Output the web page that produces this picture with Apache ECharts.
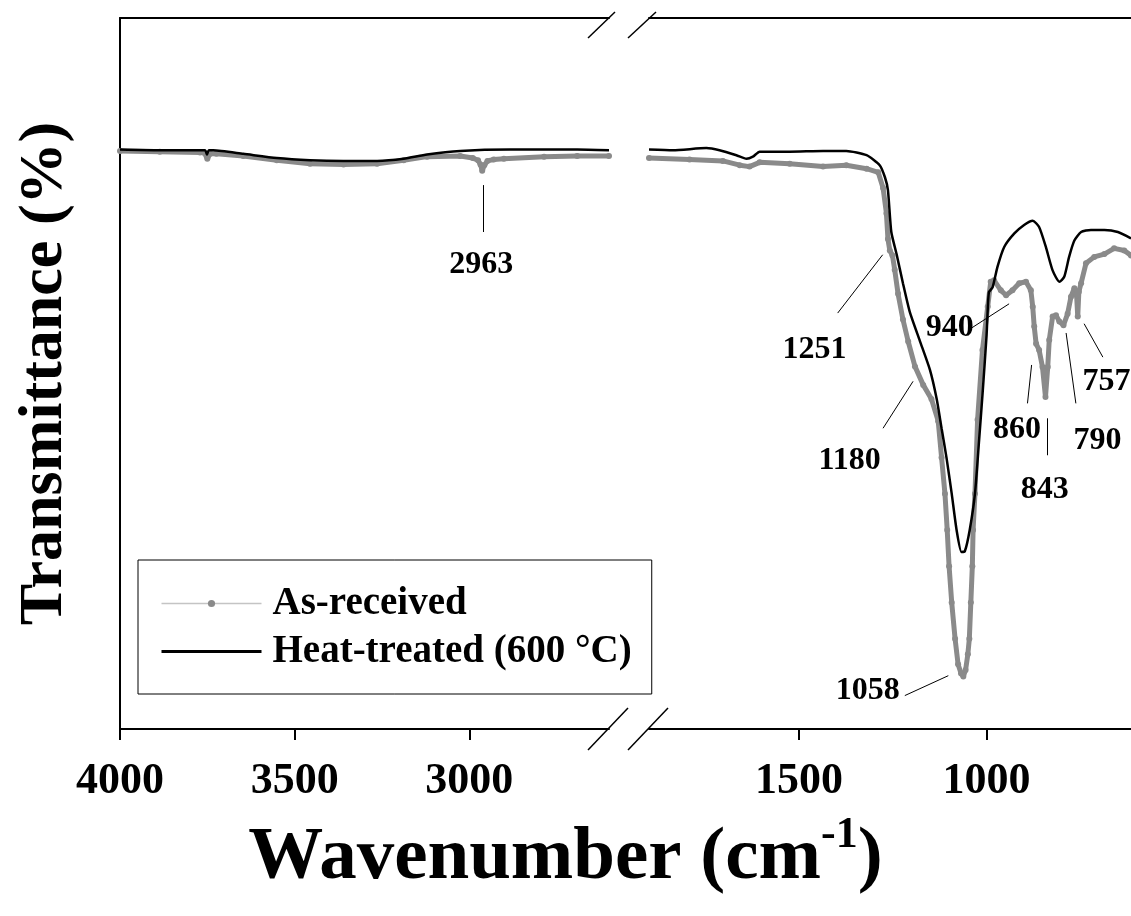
<!DOCTYPE html>
<html>
<head>
<meta charset="utf-8">
<script src="https://cdn.jsdelivr.net/npm/echarts@6/dist/echarts.min.js"></script>
<style>
  html, body { margin: 0; background: #fff; }
  #chart { width: 1131px; height: 916px; }
</style>
</head>
<body>
<div id="chart"></div>
<script>
// series names
var AS_RECEIVED = 'As-received';
var HEAT_TREATED = 'Heat-treated (600 °C)';

// left panel (4000 - 2600 cm-1)
var heatLeftWn = [4000, 3886, 3771, 3756, 3751, 3746, 3733, 3647, 3551, 3456, 3360, 3264, 3188, 3121, 3026, 2883, 2691, 2600];
var heatLeftT  = [81.5, 81.4, 81.4, 81.4, 80.8, 81.4, 81.4, 80.9, 80.3, 80.0, 79.9, 79.9, 80.2, 80.8, 81.3, 81.5, 81.5, 81.4];

var asLeftWn = [4000, 3886, 3771, 3758, 3750, 3742, 3724, 3647, 3551, 3456, 3360, 3264, 3188, 3121, 3026, 2990, 2975, 2968, 2963, 2957, 2948, 2930, 2901, 2786, 2691, 2600];
var asLeftT  = [81.3, 81.2, 81.1, 81.0, 80.2, 80.9, 80.9, 80.6, 80.0, 79.5, 79.4, 79.5, 80.0, 80.5, 80.6, 80.3, 80.0, 79.4, 78.5, 79.3, 79.9, 80.1, 80.2, 80.5, 80.6, 80.6];

// right panel (1900 - 615 cm-1)
var heatRightWn = [1900, 1836, 1747, 1712, 1667, 1640, 1623, 1605, 1525, 1436, 1374, 1320, 1285, 1271, 1263, 1254, 1240, 1223, 1205, 1178, 1151, 1133, 1120, 1107, 1093, 1080, 1067, 1058, 1045, 1031, 1020, 1010, 1000, 994, 984, 971, 953, 926, 900, 877, 860, 842, 824, 806, 793, 780, 766, 748, 722, 686, 650, 615];
var heatRightT  = [81.5, 81.4, 81.7, 81.4, 80.7, 80.2, 80.5, 81.2, 81.2, 81.3, 81.3, 80.7, 79.3, 77.6, 75.8, 69.9, 66.8, 62.7, 58.7, 54.6, 50.5, 46.4, 42.3, 38.2, 33.1, 28.0, 24.9, 25.0, 28.0, 33.1, 40.6, 47.7, 55.4, 61.4, 62.1, 65.0, 67.8, 69.7, 70.9, 71.5, 70.6, 67.8, 64.5, 62.9, 63.6, 66.4, 68.7, 69.9, 70.2, 70.2, 69.9, 69.0];

var asRightWn = [1900, 1792, 1703, 1658, 1632, 1605, 1525, 1436, 1374, 1320, 1289, 1276, 1267, 1263, 1258, 1251, 1245, 1236, 1223, 1209, 1191, 1169, 1147, 1129, 1120, 1111, 1105, 1100, 1093, 1084, 1076, 1068, 1062, 1056, 1050, 1046, 1042, 1038, 1036, 1031, 1024, 1011, 997, 989, 980, 962, 948, 931, 913, 895, 882, 877, 873, 868, 860, 851, 843, 837, 833, 824, 815, 806, 795, 784, 775, 766, 760, 757, 754, 748, 735, 713, 686, 660, 633, 615];
var asRightT  = [80.3, 80.1, 79.9, 79.3, 79.1, 79.7, 79.5, 79.1, 79.3, 78.8, 78.3, 76.1, 72.5, 68.9, 67.3, 66.6, 64.6, 61.2, 57.6, 54.5, 51.0, 48.4, 46.4, 43.3, 38.2, 33.1, 28.0, 22.9, 17.8, 12.7, 9.1, 7.8, 7.4, 8.3, 10.5, 12.7, 17.8, 22.9, 28.0, 33.1, 43.5, 53.3, 59.4, 62.9, 63.1, 61.7, 61.0, 61.7, 62.7, 62.9, 61.7, 59.4, 56.6, 54.2, 53.3, 50.9, 46.7, 50.9, 54.7, 58.0, 58.2, 57.3, 56.8, 58.4, 60.8, 62.0, 61.0, 58.0, 61.5, 62.7, 65.5, 66.4, 66.8, 67.6, 67.3, 66.6];

var leftTicks = [4000, 3500, 3000];
var rightTicks = [1500, 1000];

// peak annotations: label, text anchor, leader line start and end (wavenumber, transmittance)
var leftPeaks = [
  { label: '2963', text: [2966, 65.3], from: [2960, 76.5], to: [2960, 69.9] }
];
var rightPeaks = [
  { label: '1251', text: [1459, 53.4], from: [1397, 58.5], to: [1277, 66.7] },
  { label: '1180', text: [1365, 37.8], from: [1276, 42.3], to: [1196, 48.9] },
  { label: '940',  text: [1098, 56.4], from: [1040, 56.4], to: [940, 59.8] },
  { label: '1058', text: [1317, 5.4],  from: [1218, 4.7],  to: [1102, 7.5] },
  { label: '860',  text: [919, 42.1],  from: [891, 45.8],  to: [880, 51.2] },
  { label: '843',  text: [845, 33.6],  from: [839, 43.7],  to: [839, 38.5] },
  { label: '790',  text: [704, 40.6],  from: [788, 55.7],  to: [762, 45.8] },
  { label: '757',  text: [680, 48.8],  from: [740, 57.0],  to: [690, 52.3] }
];

var FONT = 'Liberation Serif';
var GRAY = '#8a8a8a';

function pairs(wn, t) {
  return wn.map(function (w, i) { return [w, t[i]]; });
}

function peakMarks(peaks) {
  return {
    markPoint: {
      symbol: 'circle',
      symbolSize: 1,
      itemStyle: { color: 'transparent' },
      silent: true,
      animation: false,
      label: {
        show: true,
        position: 'inside',
        formatter: '{b}',
        color: '#000',
        fontFamily: FONT,
        fontWeight: 'bold',
        fontSize: 32
      },
      data: peaks.map(function (p) { return { name: p.label, coord: p.text }; })
    },
    markLine: {
      symbol: ['none', 'none'],
      silent: true,
      animation: false,
      label: { show: false },
      lineStyle: { color: '#000', width: 1, type: 'solid' },
      data: peaks.map(function (p) { return [{ coord: p.from }, { coord: p.to }]; })
    }
  };
}

function bottomAxis(grid, min, max, ticks) {
  return {
    type: 'value', gridIndex: grid, min: min, max: max, inverse: true,
    axisLine: { show: true, onZero: false, lineStyle: { color: '#000', width: 2 } },
    axisTick: { show: true, length: 11, customValues: ticks, lineStyle: { color: '#000', width: 2 } },
    axisLabel: {
      customValues: ticks, margin: 31, color: '#000',
      fontFamily: FONT, fontWeight: 'bold', fontSize: 44,
      formatter: function (v) { return String(v); }
    },
    splitLine: { show: false }
  };
}

function topAxis(grid, min, max) {
  return {
    type: 'value', gridIndex: grid, position: 'top', min: min, max: max, inverse: true,
    axisLine: { show: true, onZero: false, lineStyle: { color: '#000', width: 2 } },
    axisTick: { show: false }, axisLabel: { show: false }, splitLine: { show: false }
  };
}

var chart = echarts.init(document.getElementById('chart'), null, { renderer: 'canvas' });

var grayLine = {
  type: 'line', symbol: 'circle', symbolSize: 6, showSymbol: true,
  itemStyle: { color: GRAY }, lineStyle: { color: GRAY, width: 5 },
  z: 2, animation: false
};
var blackLine = {
  type: 'line', symbol: 'none', smooth: 0.2,
  lineStyle: { color: '#000', width: 2.5 }, itemStyle: { color: '#000' },
  z: 3, animation: false
};

var option = {
  backgroundColor: '#fff',
  animation: false,
  title: {
    text: '{a|Wavenumber (cm}{b|-1}{a|)}',
    left: 'center',
    top: 809,
    textStyle: {
      rich: {
        a: { fontFamily: FONT, fontWeight: 'bold', fontSize: 75, color: '#000', lineHeight: 90 },
        b: { fontFamily: FONT, fontWeight: 'bold', fontSize: 44, color: '#000', verticalAlign: 'top', lineHeight: 50 }
      }
    }
  },
  legend: {
    orient: 'vertical',
    left: 138,
    top: 560,
    padding: [24, 20, 23, 22],
    itemGap: 9,
    itemWidth: 100,
    itemHeight: 9,
    borderColor: '#000',
    borderWidth: 1,
    backgroundColor: '#fff',
    textStyle: { fontFamily: FONT, fontWeight: 'bold', fontSize: 39, color: '#000', padding: [0, 0, 0, 6] },
    data: [
      { name: AS_RECEIVED, itemStyle: { color: GRAY }, lineStyle: { color: '#c4c4c4', width: 1.5 } },
      { name: HEAT_TREATED, itemStyle: { opacity: 0 }, lineStyle: { color: '#000', width: 3 } }
    ]
  },
  grid: [
    { left: 120, top: 18, width: 489, height: 711, containLabel: false, outerBoundsMode: 'none' },
    { left: 649, top: 18, width: 482, height: 711, containLabel: false, outerBoundsMode: 'none' }
  ],
  xAxis: [
    bottomAxis(0, 2600, 4000, leftTicks),
    bottomAxis(1, 615, 1900, rightTicks),
    topAxis(0, 2600, 4000),
    topAxis(1, 615, 1900)
  ],
  yAxis: [
    {
      type: 'value', gridIndex: 0, min: 0, max: 100,
      axisLine: { show: true, lineStyle: { color: '#000', width: 2 } },
      axisTick: { show: false }, axisLabel: { show: false }, splitLine: { show: false },
      name: 'Transmittance (%)',
      nameLocation: 'middle',
      nameGap: 44,
      nameTextStyle: { fontFamily: FONT, fontWeight: 'bold', fontSize: 62, color: '#000' }
    },
    { type: 'value', gridIndex: 1, min: 0, max: 100, show: false }
  ],
  series: [
    Object.assign({ name: AS_RECEIVED, xAxisIndex: 0, yAxisIndex: 0, data: pairs(asLeftWn, asLeftT) }, grayLine, peakMarks(leftPeaks)),
    Object.assign({ name: HEAT_TREATED, xAxisIndex: 0, yAxisIndex: 0, data: pairs(heatLeftWn, heatLeftT) }, blackLine),
    Object.assign({ name: AS_RECEIVED, xAxisIndex: 1, yAxisIndex: 1, data: pairs(asRightWn, asRightT) }, grayLine, peakMarks(rightPeaks)),
    Object.assign({ name: HEAT_TREATED, xAxisIndex: 1, yAxisIndex: 1, data: pairs(heatRightWn, heatRightT) }, blackLine)
  ],
  graphic: [
    // axis break marks
    { type: 'line', shape: { x1: 588, y1: 38, x2: 615, y2: 12 }, style: { stroke: '#000', lineWidth: 1.5 } },
    { type: 'line', shape: { x1: 628, y1: 38, x2: 656, y2: 12 }, style: { stroke: '#000', lineWidth: 1.5 } },
    { type: 'line', shape: { x1: 588, y1: 750, x2: 628, y2: 708 }, style: { stroke: '#000', lineWidth: 1.5 } },
    { type: 'line', shape: { x1: 628, y1: 750, x2: 668, y2: 708 }, style: { stroke: '#000', lineWidth: 1.5 } }
  ]
};

chart.setOption(option);
</script>
</body>
</html>
